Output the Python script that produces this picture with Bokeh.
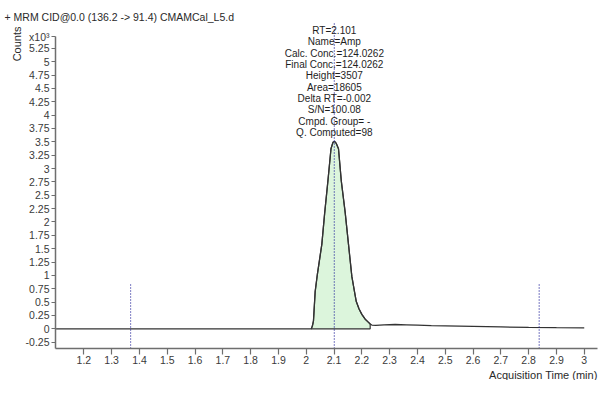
from bokeh.plotting import figure
from bokeh.models import FixedTicker, Label, Range1d, Title
from bokeh.embed import file_html
from bokeh.resources import INLINE

# ---- data (counts in thousands) ----
time_min = [1.10, 1.50, 1.90, 2.000, 2.016, 2.018, 2.022, 2.026, 2.032, 2.040, 2.048, 2.056,
            2.066, 2.078, 2.089, 2.096, 2.102, 2.108, 2.116, 2.126, 2.140, 2.152, 2.164,
            2.174, 2.180, 2.190, 2.200, 2.212, 2.224, 2.230, 2.236, 2.250, 2.280, 2.320,
            2.360, 2.400, 2.450, 2.500, 2.600, 2.700, 2.800, 2.900, 3.000]
counts_k = [0.0, 0.0, 0.0, 0.0, 0.0, 0.0, 0.05, 0.15, 0.69, 1.02, 1.30, 1.58,
            2.15, 2.77, 3.37, 3.49, 3.507, 3.47, 3.37, 2.77, 2.18, 1.58, 0.98,
            0.68, 0.51, 0.37, 0.27, 0.18, 0.12, 0.09, 0.07, 0.065, 0.075, 0.08,
            0.075, 0.07, 0.06, 0.055, 0.045, 0.035, 0.025, 0.02, 0.018]
peak_start = 2.018
peak_end = 2.230
peak_rt = 2.101
window_markers = [1.368, 2.838]
window_marker_top = 0.85

annotation_lines = ["RT=2.101", "Name=Amp", "Calc. Conc.=124.0262", "Final Conc.=124.0262",
                    "Height=3507", "Area=18605", "Delta RT=-0.002", "S/N=100.08",
                    "Cmpd. Group= -", "Q. Computed=98"]

x_ticks = [1.2, 1.3, 1.4, 1.5, 1.6, 1.7, 1.8, 1.9, 2.0, 2.1, 2.2, 2.3, 2.4, 2.5, 2.6, 2.7,
           2.8, 2.9, 3.0]
x_tick_labels = ["1.2", "1.3", "1.4", "1.5", "1.6", "1.7", "1.8", "1.9", "2", "2.1", "2.2",
                 "2.3", "2.4", "2.5", "2.6", "2.7", "2.8", "2.9", "3"]
y_ticks = [-0.25, 0, 0.25, 0.5, 0.75, 1, 1.25, 1.5, 1.75, 2, 2.25, 2.5, 2.75, 3, 3.25, 3.5,
           3.75, 4, 4.25, 4.5, 4.75, 5, 5.25]
y_tick_labels = ["-0.25", "0", "0.25", "0.5", "0.75", "1", "1.25", "1.5", "1.75", "2", "2.25",
                 "2.5", "2.75", "3", "3.25", "3.5", "3.75", "4", "4.25", "4.5", "4.75", "5",
                 "5.25"]
y_scale_label = "x10\u00b3"

title_text = "+ MRM CID@0.0 (136.2 -> 91.4) CMAMCal_L5.d"
x_title = "Acquisition Time (min)"
y_title = "Counts"

X0, X1 = 1.098, 3.0477
Y0, Y1 = -0.369, 5.733
Y_AXIS_TOP = 5.47

FONT = "Liberation Sans"
TXT = "#2a2a2a"

p = figure(width=599, height=380, output_backend="svg", toolbar_location=None,
           x_range=Range1d(X0, X1), y_range=Range1d(Y0, Y1), title=None,
           min_border_left=55, min_border_right=2, min_border_top=22, min_border_bottom=30)
p.outline_line_color = None
p.xgrid.visible = False
p.ygrid.visible = False
p.background_fill_color = "white"
p.border_fill_color = "white"

# peak fill
pk_t = [t for t in time_min if peak_start <= t <= peak_end]
pk_c = [c for t, c in zip(time_min, counts_k) if peak_start <= t <= peak_end]
p.patch(pk_t + [pk_t[-1], pk_t[0]], pk_c + [0, 0], fill_color="#dcf5dc",
        line_color="#333333", line_width=1.2)

# chromatogram
p.line(time_min, counts_k, line_color="#333333", line_width=1.3)

# dotted markers
DOT = "#22229a"
p.segment(x0=window_markers, y0=[Y0] * len(window_markers), x1=window_markers,
          y1=[window_marker_top] * len(window_markers), line_color=DOT,
          line_width=1.2, line_dash="1 2")
p.segment(x0=[peak_rt], y0=[Y0], x1=[peak_rt], y1=[Y1], line_color=DOT,
          line_width=1.2, line_dash="1 2")

# axes
yt = y_ticks + [Y_AXIS_TOP]
yl = y_tick_labels + [y_scale_label]
for ax, ticks, labels in ((p.xaxis[0], x_ticks, x_tick_labels), (p.yaxis[0], yt, yl)):
    ax.ticker = FixedTicker(ticks=ticks)
    ax.major_label_overrides = {t: l for t, l in zip(ticks, labels)}
    ax.minor_tick_line_color = None
    ax.axis_line_color = "#6e6e6e"
    ax.axis_line_width = 1.5
    ax.major_tick_line_color = "#6e6e6e"
    ax.major_tick_line_width = 1.2
    ax.major_tick_in = 0
    ax.major_label_text_font = FONT
    ax.major_label_text_font_size = "10.5px"
    ax.major_label_text_color = "#3a3a3a"
p.xaxis[0].major_tick_out = 6
p.xaxis[0].major_label_standoff = 1
p.yaxis[0].major_tick_out = 4
p.yaxis[0].major_label_standoff = 2
p.yaxis[0].bounds = (Y0, Y_AXIS_TOP)

# titles outside the frame
p.add_layout(Title(text=title_text, align="left", offset=-51, standoff=0,
                   text_font=FONT, text_font_size="10.5px", text_font_style="normal",
                   text_color=TXT), "above")
p.add_layout(Title(text=y_title, align="right", offset=4, standoff=0,
                   text_font=FONT, text_font_size="11px", text_font_style="normal",
                   text_color=TXT), "left")
p.add_layout(Title(text=x_title, align="right", offset=0, standoff=0,
                   text_font=FONT, text_font_size="11px", text_font_style="normal",
                   text_color=TXT), "below")

for i, line in enumerate(annotation_lines):
    p.add_layout(Label(x=peak_rt, y=318.1 - 11.36 * i, x_units="data", y_units="screen",
                       text=line, text_font=FONT, text_font_size="10px", text_color="#1e1e1e",
                       text_align="center", text_baseline="middle"))

open("out.html", "w").write(file_html(p, INLINE))
